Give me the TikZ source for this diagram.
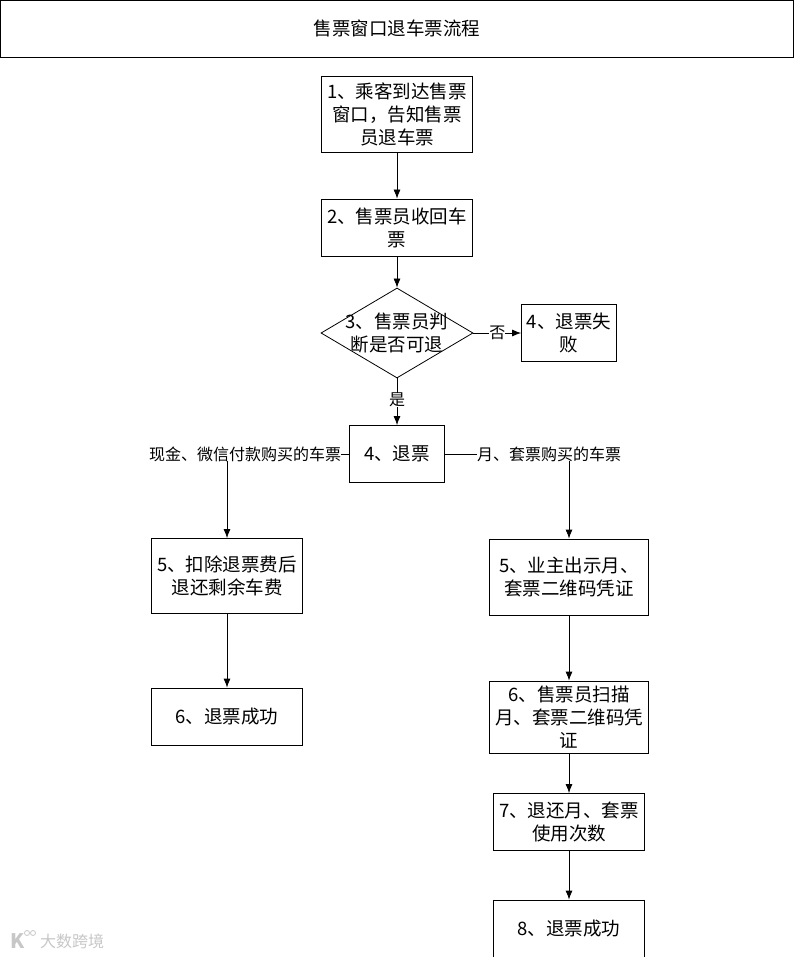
\documentclass[tikz,border=0pt]{standalone}
\usepackage{fontspec}
\setmainfont{Noto Sans CJK SC}
\usetikzlibrary{arrows.meta,positioning,calc,shapes.geometric}
\tikzset{
  stepbox/.style={draw,thick,fill=white,inner sep=0pt,align=center,font=\fontsize{18.5}{23}\selectfont},
  pathlab/.style={fill=white,inner sep=0pt,font=\fontsize{16}{18}\selectfont},
  markgray/.style={text=black!22,inner sep=0pt,font=\fontsize{16}{18}\selectfont},
}
\begin{document}
\begin{tikzpicture}[x=1pt,y=-1pt,>={Latex[length=9pt,width=7pt]}]
  \useasboundingbox (0,0) rectangle (794,957);
  \node[stepbox,minimum width=793pt,minimum height=57pt] (title) at (397,28.5) {售票窗口退车票流程};
  \node[stepbox,minimum width=151pt,minimum height=76pt] (arrive) at (397,114) {1、乘客到达售票\\窗口，告知售票\\员退车票};
  \node[stepbox,minimum width=151pt,minimum height=57pt] (collect) at (397,227.5) {2、售票员收回车\\票};
  \node[stepbox,diamond,aspect=1.69,inner sep=-6pt,minimum width=152pt,minimum height=90pt,fill=none] (judge) at (397,333) {3、售票员判\\断是否可退};
  \node[stepbox,minimum width=95pt,minimum height=57pt] (fail) at (569,333) {4、退票失\\败};
  \node[stepbox,minimum width=95pt,minimum height=57pt] (refund) at (397,454) {4、退票};
  \node[stepbox,minimum width=151pt,minimum height=75pt] (deduct) at (227,576) {5、扣除退票费后\\退还剩余车费};
  \node[stepbox,minimum width=151pt,minimum height=57pt] (okleft) at (227,716.5) {6、退票成功};
  \node[stepbox,minimum width=159pt,minimum height=76pt] (show) at (569,577) {5、业主出示月、\\套票二维码凭证};
  \node[stepbox,minimum width=159pt,minimum height=72pt] (scan) at (569,717) {6、售票员扫描\\月、套票二维码凭\\证};
  \node[stepbox,minimum width=151pt,minimum height=57pt] (back) at (569,822) {7、退还月、套票\\使用次数};
  \node[stepbox,minimum width=151pt,minimum height=57pt] (okright) at (569,928.5) {8、退票成功};
  \draw[->,thick] (arrive) -- (collect);
  \draw[->,thick] (collect) -- (judge);
  \draw[->,thick] (judge) -- node[pathlab] {否} (fail);
  \draw[->,thick] (judge) -- node[pathlab,pos=0.46] {是} (refund);
  \draw[->,thick] (refund) -| node[pathlab,pos=0.426] {现金、微信付款购买的车票} (deduct);
  \draw[->,thick] (refund) -| node[pathlab,pos=0.42] {月、套票购买的车票} (show);
  \draw[->,thick] (deduct) -- (okleft);
  \draw[->,thick] (show) -- (scan);
  \draw[->,thick] (scan) -- (back);
  \draw[->,thick] (back) -- (okright);
  % watermark
  \node[markgray] (mark) at (72,941) {大数跨境};
  \node[markgray,font=\fontsize{20}{20}\selectfont\bfseries] (markk) at (18,941) {K};
  \draw[black!22,thick] (27,933) circle (2.5pt) (33,933) circle (2.5pt);
\end{tikzpicture}
\end{document}
